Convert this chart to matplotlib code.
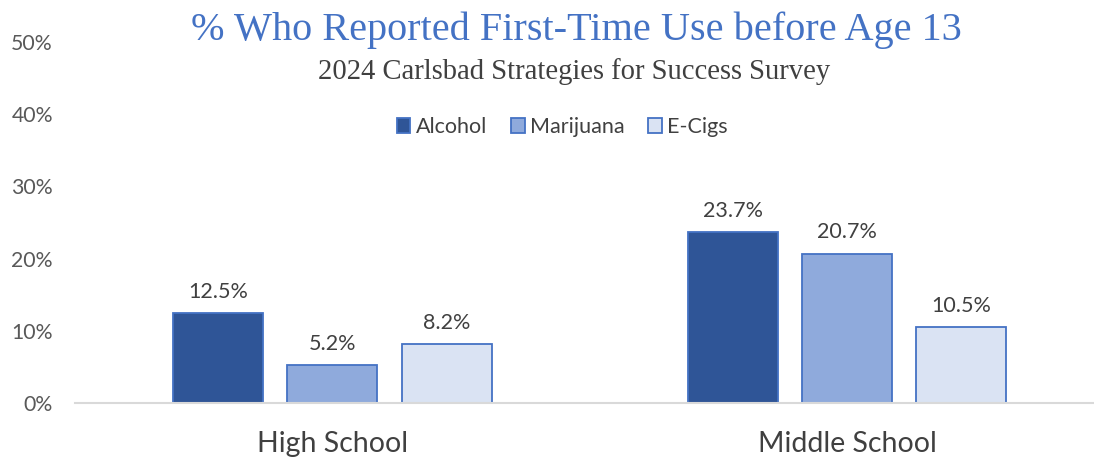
import matplotlib
matplotlib.use("Agg")
import matplotlib.pyplot as plt
from matplotlib.patches import Patch
import numpy as np

# Survey results: share of students reporting first-time use before age 13
categories = ["High School", "Middle School"]
series_names = ["Alcohol", "Marijuana", "E-Cigs"]
alcohol = [0.125, 0.237]
marijuana = [0.052, 0.207]
ecigs = [0.082, 0.105]
y_ticks = [0.0, 0.1, 0.2, 0.3, 0.4, 0.5]
y_tick_labels = ["0%", "10%", "20%", "30%", "40%", "50%"]

title = "% Who Reported First-Time Use before Age 13"
subtitle = "2024 Carlsbad Strategies for Success Survey"

fills = ["#2F5597", "#8FAADC", "#DAE3F3"]
edge = "#4472C4"
sans = ["Lato", "DejaVu Sans"]
serif = ["Liberation Serif", "DejaVu Serif"]

fig = plt.figure(figsize=(10.94, 4.59), dpi=100)
ax = fig.add_axes([0.0686, 0.122, 0.9410, 0.7865])

x = np.arange(len(categories))
width = 0.175
step = 0.222
series = [alcohol, marijuana, ecigs]
for i, (name, vals) in enumerate(zip(series_names, series)):
    pos = x + (i - 1) * step
    bars = ax.bar(pos, vals, width=width, color=fills[i], edgecolor=edge,
                  linewidth=1.3, label=name, zorder=3)
    for b, v in zip(bars, vals):
        ax.annotate(f"{v*100:.1f}%", (b.get_x() + b.get_width() / 2, v),
                    xytext=(0, 8), textcoords="offset points",
                    ha="center", va="bottom", fontsize=15.5,
                    color="#404040", family=sans)

ax.set_xlim(-0.5, 1.5)
ax.set_ylim(0, 0.5)
ax.set_yticks(y_ticks)
ax.set_yticklabels(y_tick_labels, fontsize=15.3, color="#595959", family=sans)
ax.set_xticks(x)
ax.set_xticklabels(categories, fontsize=20.5, color="#404040", family=sans)
ax.tick_params(axis="both", length=0)
ax.tick_params(axis="y", pad=16)
ax.tick_params(axis="x", pad=20)
for s in ["top", "right", "left"]:
    ax.spines[s].set_visible(False)
ax.spines["bottom"].set_color("#D9D9D9")
ax.spines["bottom"].set_linewidth(1.5)
ax.spines["bottom"].set_zorder(4)

fig.text(0.527, 0.935, title, ha="center", va="center", fontsize=29,
         color="#4472C4", family=serif)
fig.text(0.525, 0.845, subtitle, ha="center", va="center", fontsize=20.6,
         color="#404040", family=serif)

handles = [Patch(facecolor=fills[i], edgecolor=edge, linewidth=1.3)
           for i in range(3)]
fig.legend(handles, series_names, loc="center", bbox_to_anchor=(0.514, 0.723),
           ncol=3, frameon=False, prop={"family": sans, "size": 15.5},
           handlelength=0.64, handleheight=0.64, handletextpad=0.25,
           columnspacing=1.1, labelcolor="#404040")

fig.savefig("out.png", dpi=100)
